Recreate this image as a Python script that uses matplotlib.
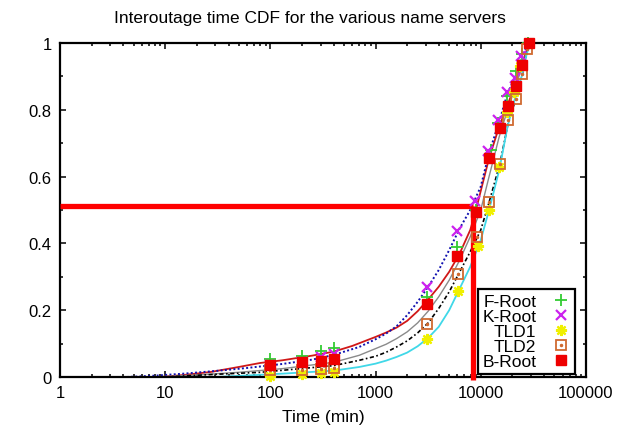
import matplotlib
matplotlib.use("Agg")
import matplotlib.pyplot as plt
from matplotlib.ticker import FixedLocator, FuncFormatter, MultipleLocator

plt.rcParams["font.family"] = ["Liberation Sans", "DejaVu Sans"]

# curves (lines only, no legend entry)
red_x = [9, 15, 27, 50, 80, 130, 250, 400, 600, 1000, 1259, 1585, 1995, 2512, 3162, 3981, 5012, 6310, 7943, 8913, 12000, 15000, 18000, 21000, 24500, 29000]
red_y = [0, 0.006, 0.015, 0.03, 0.042, 0.05, 0.064, 0.076, 0.093, 0.12, 0.133, 0.148, 0.168, 0.197, 0.232, 0.27, 0.315, 0.37, 0.44, 0.495, 0.655, 0.75, 0.815, 0.87, 0.935, 1.0]

blue_x = [4.3, 8, 15, 30, 60, 130, 250, 400, 700, 1000, 1259, 1585, 1995, 2512, 3162, 3981, 5012, 6310, 7943, 10000, 12000, 15000, 18000, 21000, 24000, 28000]
blue_y = [0, 0.004, 0.01, 0.018, 0.027, 0.039, 0.052, 0.066, 0.09, 0.113, 0.13, 0.152, 0.185, 0.225, 0.27, 0.32, 0.38, 0.445, 0.5, 0.57, 0.67, 0.765, 0.85, 0.895, 0.95, 1.0]

grey_x = [8, 20, 50, 130, 400, 700, 1000, 1259, 1585, 1995, 2512, 3162, 3981, 5012, 6310, 7943, 10000, 12000, 15000, 18000, 22000, 26000, 29000]
grey_y = [0, 0.006, 0.014, 0.025, 0.044, 0.065, 0.085, 0.098, 0.115, 0.135, 0.162, 0.197, 0.24, 0.29, 0.35, 0.42, 0.5, 0.6, 0.72, 0.8, 0.88, 0.95, 1.0]

black_x = [10, 30, 80, 130, 400, 700, 1000, 1259, 1585, 1995, 2512, 3162, 3981, 5012, 6310, 7943, 10000, 12000, 15200, 18500, 21600, 24900, 27700, 30000]
black_y = [0, 0.008, 0.014, 0.02, 0.034, 0.05, 0.062, 0.074, 0.09, 0.108, 0.132, 0.162, 0.205, 0.255, 0.315, 0.375, 0.44, 0.523, 0.638, 0.77, 0.832, 0.907, 0.982, 1.0]

cyan_x = [30, 64, 130, 400, 700, 1000, 1259, 1585, 1995, 2512, 3162, 3981, 5012, 6310, 7943, 10000, 12000, 15000, 18000, 21000, 24500, 27500, 30000]
cyan_y = [0, 0.005, 0.01, 0.019, 0.03, 0.04, 0.049, 0.06, 0.073, 0.092, 0.117, 0.15, 0.2, 0.265, 0.33, 0.41, 0.5, 0.62, 0.75, 0.83, 0.9, 0.97, 1.0]

# marker points
froot_x = [100, 200, 300, 400, 3050, 5950, 9000, 12500, 14700, 17600, 21800, 24500, 28000]
froot_y = [0.054, 0.064, 0.079, 0.086, 0.24, 0.388, 0.5, 0.68, 0.76, 0.84, 0.917, 0.967, 1.0]

kroot_x = [100, 200, 300, 400, 3050, 5950, 8900, 11800, 14700, 17600, 21100, 24000]
kroot_y = [0.035, 0.045, 0.06, 0.069, 0.268, 0.438, 0.528, 0.678, 0.768, 0.854, 0.894, 0.96]

tld1_x = [100, 200, 300, 400, 3050, 6100, 9400, 12000, 15000, 17600, 20500, 23500]
tld1_y = [0.004, 0.01, 0.013, 0.015, 0.114, 0.258, 0.393, 0.5, 0.63, 0.793, 0.853, 0.93]

tld2_x = [100, 200, 300, 400, 3050, 6100, 9300, 12000, 15200, 18300, 21600, 24900, 27700]
tld2_y = [0.02, 0.022, 0.025, 0.027, 0.159, 0.308, 0.418, 0.523, 0.638, 0.77, 0.832, 0.907, 0.982]

broot_x = [100, 200, 300, 400, 3050, 5900, 9100, 12000, 15200, 18300, 21600, 24500, 28900]
broot_y = [0.037, 0.044, 0.049, 0.054, 0.218, 0.363, 0.495, 0.655, 0.745, 0.812, 0.872, 0.934, 1.0]

# red guide lines
guide_x = 8400
guide_y = 0.513

fig = plt.figure(figsize=(6.2, 4.31), dpi=100)
ax = fig.add_axes([0.097, 0.123, 0.848, 0.775])

ax.plot(red_x, red_y, color="#d01818", lw=1.3)
ax.plot(blue_x, blue_y, color="#1010b0", lw=1.4, ls=(0, (1, 1.2)))
ax.plot(grey_x, grey_y, color="#8a8a8a", lw=1.0)
ax.plot(black_x, black_y, color="black", lw=1.2, ls=(0, (2.5, 1.5, 1, 1.5)))
ax.plot(cyan_x, cyan_y, color="#40d8e8", lw=1.3)

ax.plot([1, guide_x], [guide_y, guide_y], color="red", lw=3.8, solid_capstyle="butt", zorder=4)
ax.plot([guide_x, guide_x], [guide_y, -0.01], color="red", lw=3.8, solid_capstyle="butt", zorder=4, clip_on=False)

h1, = ax.plot(froot_x, froot_y, ls="none", marker="+", ms=8, mew=1.3, color="#33cc33", zorder=5, clip_on=False)
h2, = ax.plot(kroot_x, kroot_y, ls="none", marker="x", ms=7, mew=1.6, color="#cc22ee", zorder=5, clip_on=False)
h3, = ax.plot(tld1_x, tld1_y, ls="none", marker=(8, 2, 0), ms=8, mew=1.6, color="#f0f000", zorder=5, clip_on=False)
h4, = ax.plot(tld2_x, tld2_y, ls="none", marker="s", ms=6.5, mew=1.3, mfc="none", mec="#d06a30", zorder=5, clip_on=False)
h4b, = ax.plot(tld2_x, tld2_y, ls="none", marker="o", ms=1.5, color="#d06a30", zorder=5, clip_on=False)
h5, = ax.plot(broot_x, broot_y, ls="none", marker="s", ms=7.5, color="#ee0000", zorder=6, clip_on=False)

ax.set_xscale("log")
ax.set_xlim(1, 100000)
ax.set_ylim(0, 1)

ax.xaxis.set_major_locator(FixedLocator([1, 10, 100, 1000, 10000, 100000]))
ax.xaxis.set_major_formatter(FuncFormatter(lambda v, p: "%d" % round(v)))
minors = [m * 10 ** d for d in range(5) for m in range(2, 10)]
ax.xaxis.set_minor_locator(FixedLocator(minors))
ax.xaxis.set_minor_formatter(FuncFormatter(lambda v, p: ""))
ax.yaxis.set_major_locator(MultipleLocator(0.2))
ax.yaxis.set_major_formatter(FuncFormatter(lambda v, p: "%g" % round(v, 1)))
ax.yaxis.set_minor_locator(MultipleLocator(0.1))

ax.tick_params(which="both", direction="in", top=True, right=True, labelsize=12, width=1.1, color="black")
ax.tick_params(which="major", length=4.5, pad=6)
ax.tick_params(which="minor", length=2.3)
for s in ax.spines.values():
    s.set_linewidth(1.6)

ax.set_xlabel("Time (min)", fontsize=12.5, labelpad=6)
fig.text(0.5, 1 - 18 / 431, "Interoutage time CDF for the various name servers", ha="center", va="center", fontsize=12.5)

leg = ax.legend([h1, h2, h3, (h4, h4b), h5], ["F-Root", "K-Root", "TLD1", "TLD2", "B-Root"],
                loc="lower right", bbox_to_anchor=(0.98, 0.01), borderaxespad=0, markerfirst=False,
                fontsize=12.5, frameon=True, fancybox=False, framealpha=1, edgecolor="black",
                handlelength=1.2, handletextpad=0.8, labelspacing=0.0, borderpad=0.25)
leg.get_frame().set_linewidth(1.6)
leg.set_zorder(7)

fig.savefig("out.png", dpi=100)
